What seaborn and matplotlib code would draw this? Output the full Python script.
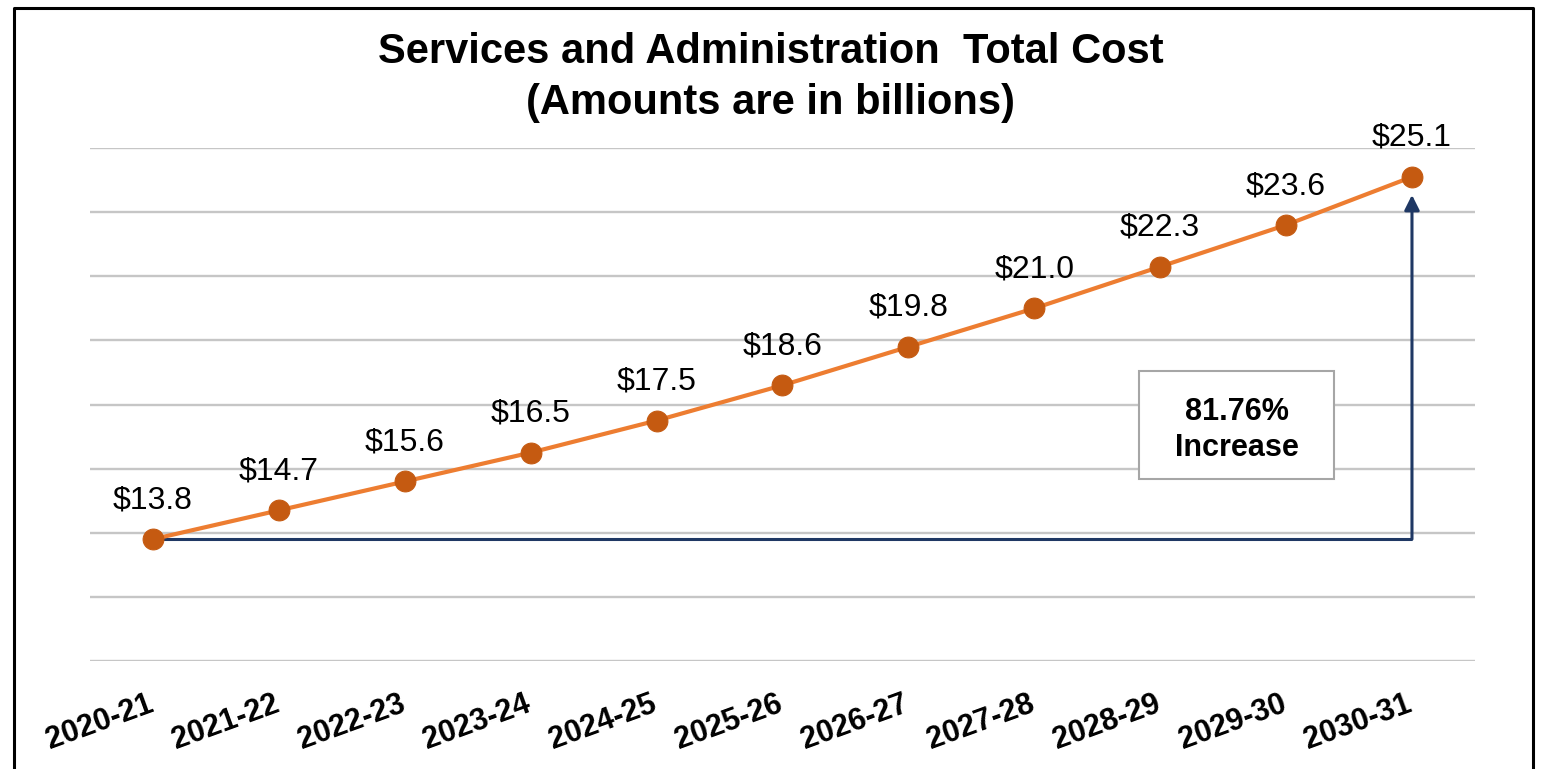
import numpy as np
import pandas as pd
import matplotlib.pyplot as plt
import matplotlib.transforms as mtransforms
import seaborn as sns
from matplotlib.patches import Rectangle
from matplotlib.lines import Line2D

# chart data
years = ['2020-21', '2021-22', '2022-23', '2023-24', '2024-25', '2025-26',
         '2026-27', '2027-28', '2028-29', '2029-30', '2030-31']
costs = [13.8, 14.7, 15.6, 16.5, 17.5, 18.6, 19.8, 21.0, 22.3, 23.6, 25.1]
increase_text = '81.76%\nIncrease'
title_lines = ['Services and Administration  Total Cost', '(Amounts are in billions)']

LINE_COLOR = '#ED7D31'
MARKER_COLOR = '#C55A11'
ARROW_COLOR = '#1F3864'
GRID_COLOR = '#C6C6C6'


def main():
    sns.set_style('white')
    plt.rcParams['font.family'] = ['Liberation Sans', 'DejaVu Sans']

    df = pd.DataFrame({'year': years, 'cost': costs, 'pos': np.arange(len(years))})

    fig = plt.figure(figsize=(15.42, 7.69), dpi=100)
    ax = fig.add_axes([0.0584, 0.1404, 0.8981, 0.6671])

    # horizontal gridlines
    for y in np.arange(10, 27, 2):
        ax.axhline(y, color=GRID_COLOR, lw=1.7, zorder=0)

    # arrow showing the increase
    ax.plot([df['pos'].iloc[0], df['pos'].iloc[-1]], [costs[0], costs[0]],
            color=ARROW_COLOR, lw=2.2, zorder=1, solid_capstyle='butt')
    ax.annotate('', xy=(df['pos'].iloc[-1], costs[-1]),
                xytext=(df['pos'].iloc[-1], costs[0]),
                arrowprops=dict(arrowstyle='-|>,head_length=0.9,head_width=0.45',
                                color=ARROW_COLOR, lw=2.2, shrinkA=0, shrinkB=13),
                zorder=1)

    sns.lineplot(data=df, x='pos', y='cost', ax=ax, color=LINE_COLOR, lw=3,
                 marker='o', markersize=15, markerfacecolor=MARKER_COLOR,
                 markeredgecolor=MARKER_COLOR, zorder=3)

    for x, v in zip(df['pos'], costs):
        ax.annotate(f'${v:.1f}', (x, v), xytext=(0, 28), textcoords='offset points',
                    ha='center', va='center', fontsize=23, color='black')

    # increase box
    ax.add_patch(Rectangle((0.7571, 0.3548), 0.1408, 0.2105, transform=ax.transAxes,
                           facecolor='white', edgecolor='#A6A6A6', lw=1.5, zorder=2))
    ax.text(0.8281, 0.4498, increase_text, transform=ax.transAxes, ha='center',
            va='center', fontsize=22, fontweight='bold', linespacing=1.25,
            color='black', zorder=4)

    ax.set_xlim(-0.5, len(years) - 0.5)
    ax.set_ylim(10, 26)
    ax.set_xticks(df['pos'])
    ax.set_xticklabels(years, rotation=20, ha='right', rotation_mode='anchor',
                       fontsize=22, fontweight='bold', color='black')
    ax.tick_params(axis='x', length=0, pad=20)
    shift = mtransforms.ScaledTranslation(-0.06, 0, fig.dpi_scale_trans)
    for lbl in ax.get_xticklabels():
        lbl.set_transform(lbl.get_transform() + shift)
    ax.set_yticks([])
    ax.set_xlabel('')
    ax.set_ylabel('')
    sns.despine(ax=ax, left=True, bottom=True)

    fig.text(0.5, 1 - 52 / 769, title_lines[0], ha='center', va='center',
             fontsize=30, fontweight='bold', color='black')
    fig.text(0.5, 1 - 103 / 769, title_lines[1], ha='center', va='center',
             fontsize=30, fontweight='bold', color='black')

    # outer frame (bottom edge runs off the picture)
    x0, x1, y1 = 14 / 1542, 1533 / 1542, 1 - 8 / 769
    fig.add_artist(Line2D([x0, x0, x1, x1], [-0.05, y1, y1, -0.05],
                          transform=fig.transFigure, color='black', lw=2.2))

    fig.savefig('out.png', dpi=100)


if __name__ == '__main__':
    main()
